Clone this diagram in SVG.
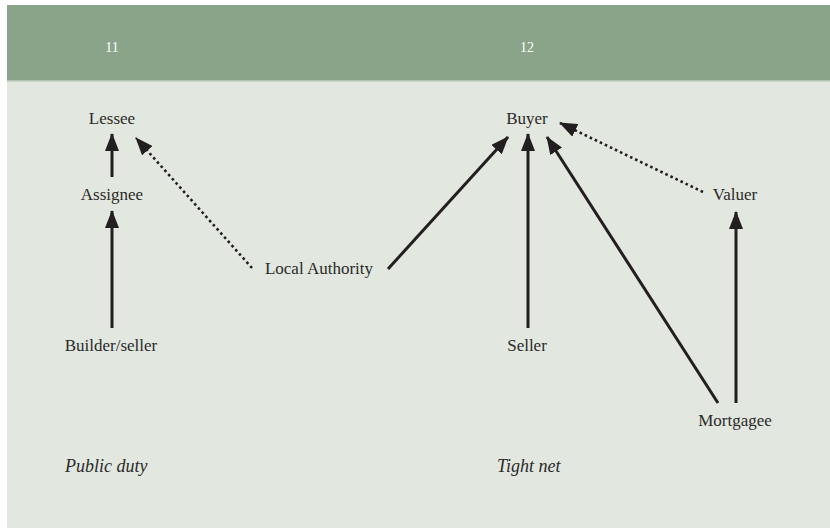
<svg xmlns="http://www.w3.org/2000/svg" width="830" height="529" viewBox="0 0 830 529">
<style>
.lbl{font-family:"Liberation Serif","Times New Roman",serif;font-size:17px;fill:#2b2a29;text-anchor:middle}
.cap{font-family:"Liberation Serif","Times New Roman",serif;font-size:18px;fill:#2b2a29;font-style:italic}
.num{font-family:"Liberation Serif","Times New Roman",serif;font-size:14px;fill:#ffffff;text-anchor:middle}
.solid{stroke:#231f20;stroke-width:3;fill:none;marker-end:url(#ah)}
.dot{stroke:#231f20;stroke-width:2.6;fill:none;stroke-dasharray:2.6 3;marker-end:url(#ah)}
</style>
<defs>
<marker id="ah" viewBox="0 0 18 14" refX="17" refY="7" markerWidth="18" markerHeight="14" markerUnits="userSpaceOnUse" orient="auto">
<path d="M0,0 L18,7 L0,14 z" fill="#231f20"/>
</marker>
</defs>
<rect x="0" y="0" width="830" height="529" fill="#ffffff"/>
<rect x="7" y="5" width="823" height="523" fill="#e2e7e0"/>
<rect x="7" y="5" width="823" height="75" fill="#8aa48a"/>
<rect x="7" y="80" width="823" height="1.5" fill="#b4c4b2"/>
<g id="header">
<text class="num" x="112" y="52">11</text>
<text class="num" x="527" y="52">12</text>
</g>
<g id="connectors">
<line class="solid" x1="112" y1="177" x2="112" y2="134"/>
<line class="solid" x1="112" y1="328" x2="112" y2="211"/>
<line class="dot" x1="252" y1="268" x2="136" y2="138"/>
<line class="solid" x1="388" y1="269" x2="508" y2="137"/>
<line class="solid" x1="528" y1="328" x2="528" y2="134"/>
<line class="solid" x1="718" y1="403" x2="547" y2="137"/>
<line class="solid" x1="736" y1="403" x2="736" y2="212"/>
<line class="dot" x1="703" y1="192" x2="560" y2="123"/>
</g>
<g id="lessee"><text class="lbl" x="112" y="124">Lessee</text></g>
<g id="assignee"><text class="lbl" x="112" y="200">Assignee</text></g>
<g id="builder-seller"><text class="lbl" x="111" y="351">Builder/seller</text></g>
<g id="local-authority"><text class="lbl" x="319" y="274">Local Authority</text></g>
<g id="buyer"><text class="lbl" x="527" y="124">Buyer</text></g>
<g id="seller"><text class="lbl" x="527" y="351">Seller</text></g>
<g id="valuer"><text class="lbl" x="735" y="200">Valuer</text></g>
<g id="mortgagee"><text class="lbl" x="735" y="426">Mortgagee</text></g>
<g id="captions">
<text class="cap" x="65" y="472">Public duty</text>
<text class="cap" x="497" y="472">Tight net</text>
</g>
</svg>
